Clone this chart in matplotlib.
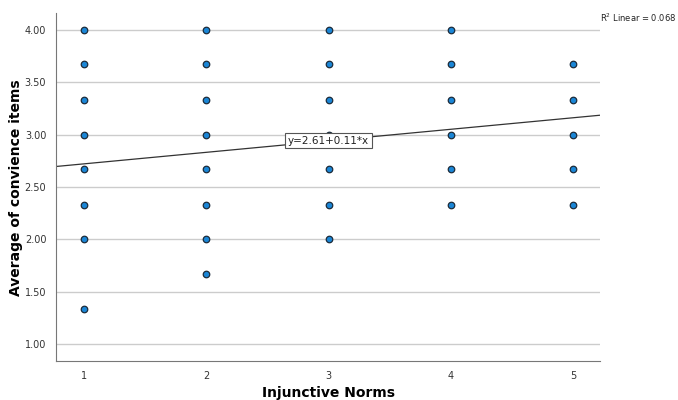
import matplotlib.pyplot as plt

# Injunctive norms score and the average of the convenience items
x1 = [1, 1, 1, 1, 1, 1, 1, 1]
y1 = [4.00, 3.67, 3.33, 3.00, 2.67, 2.33, 2.00, 1.33]
x2 = [2, 2, 2, 2, 2, 2, 2, 2]
y2 = [4.00, 3.67, 3.33, 3.00, 2.67, 2.33, 2.00, 1.67]
x3 = [3, 3, 3, 3, 3, 3, 3]
y3 = [4.00, 3.67, 3.33, 3.00, 2.67, 2.33, 2.00]
x4 = [4, 4, 4, 4, 4, 4]
y4 = [4.00, 3.67, 3.33, 3.00, 2.67, 2.33]
x5 = [5, 5, 5, 5, 5]
y5 = [3.67, 3.33, 3.00, 2.67, 2.33]

intercept = 2.61
slope = 0.11
r2 = 0.068

xs = x1 + x2 + x3 + x4 + x5
ys = y1 + y2 + y3 + y4 + y5

fig = plt.figure(figsize=(6.78, 4), dpi=100)
ax = fig.add_axes([0.0826, 0.0975, 0.8024, 0.87])

xlo, xhi = 0.771, 5.22
ax.set_xlim(xlo, xhi)
ax.set_ylim(0.838, 4.16)

ax.set_yticks([1.0, 1.5, 2.0, 2.5, 3.0, 3.5, 4.0])
ax.set_yticklabels(['1.00', '1.50', '2.00', '2.50', '3.00', '3.50', '4.00'])
ax.set_xticks([1, 2, 3, 4, 5])
ax.grid(axis='y', color='#cccccc', linewidth=1)
ax.set_axisbelow(True)

# fit line
ax.plot([xlo, xhi], [intercept + slope * xlo, intercept + slope * xhi],
        color='#333333', linewidth=0.9, zorder=2)

ax.scatter(xs, ys, s=22, color='#1a86d6', edgecolors='#1c2b3a',
           linewidths=0.9, zorder=3)

ax.text(3, intercept + slope * 3, 'y=2.61+0.11*x', ha='center', va='center',
        fontsize=7.5, color='#222222', zorder=4,
        bbox=dict(boxstyle='square,pad=0.25', facecolor='white',
                  edgecolor='#555555', linewidth=0.8))

fig.text(0.997, 0.955, '$\\mathregular{R^2}$ Linear = %.3f' % r2, fontsize=6,
         color='#222222', ha='right', va='center')

for side in ['top', 'right']:
    ax.spines[side].set_visible(False)
for side in ['left', 'bottom']:
    ax.spines[side].set_color('#777777')
ax.tick_params(length=0, labelsize=7, colors='#333333', pad=7)

fig.text(0.484, 0.018, 'Injunctive Norms', fontsize=10, fontweight='bold',
         ha='center', va='center')
fig.text(0.024, 0.53, 'Average of convience items', fontsize=10,
         fontweight='bold', ha='center', va='center', rotation=90)

fig.savefig('out.png', dpi=100, facecolor='white')
